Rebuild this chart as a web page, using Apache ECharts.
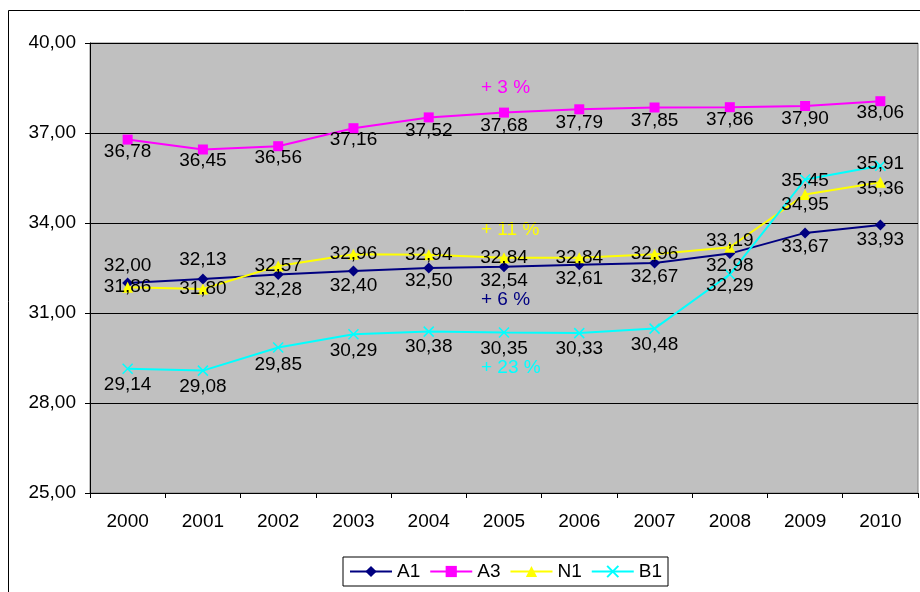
<!DOCTYPE html>
<html>
<head>
<meta charset="utf-8">
<script src="https://cdn.jsdelivr.net/npm/echarts@6/dist/echarts.min.js"></script>
<style>
html,body{margin:0;padding:0;background:#fff;}
#chart{width:920px;height:592px;}
</style>
</head>
<body>
<div id="chart"></div>
<script>
// categories and values
var years = ['2000','2001','2002','2003','2004','2005','2006','2007','2008','2009','2010'];
var a1 = [32.00, 32.13, 32.28, 32.40, 32.50, 32.54, 32.61, 32.67, 32.98, 33.67, 33.93];
var a3 = [36.78, 36.45, 36.56, 37.16, 37.52, 37.68, 37.79, 37.85, 37.86, 37.90, 38.06];
var n1 = [31.86, 31.80, 32.57, 32.96, 32.94, 32.84, 32.84, 32.96, 33.19, 34.95, 35.36];
var b1 = [29.14, 29.08, 29.85, 30.29, 30.38, 30.35, 30.33, 30.48, 32.29, 35.45, 35.91];
var growth = ['+ 3 %', '+ 11 %', '+ 6 %', '+ 23 %'];

// vertical shift of each value label (px), like in the excel picture
var shiftA1 = [-17, -19, 15, 15, 13, 14, 14, 14, 12, 14, 15];
var shiftA3 = [12, 11, 12, 12, 13, 13, 13, 13, 13, 13, 12];
var shiftN1 = [0, 0, 0, 0, 0, 0, 0, 0, -7, 10, 7];
var shiftB1 = [16, 16, 17, 16, 15, 16, 16, 16, 11, 1, -2];

function fmt(v) {
	return Number(v).toFixed(2).replace('.', ',');
}

var font = 'Liberation Sans, Arial, sans-serif';

function makeSeries(name, values, shifts, color, symbol, size) {
	var data = [];
	for (var i = 0; i < values.length; i++) {
		data.push({
			value: values[i],
			label: { offset: [0, shifts[i]] }
		});
	}
	return {
		name: name,
		type: 'line',
		data: data,
		symbol: symbol,
		symbolSize: size,
		showAllSymbol: true,
		lineStyle: { color: color, width: 2 },
		itemStyle: { color: color, borderColor: color, borderWidth: symbol.indexOf('path') == 0 ? 1.5 : 0 },
		label: {
			show: true,
			position: 'inside',
			color: '#000',
			fontSize: 19,
			fontFamily: font,
			formatter: function (p) { return fmt(p.value); }
		},
		emphasis: { disabled: true },
		animation: false
	};
}

var myChart = echarts.init(document.getElementById('chart'));

var option = {
	backgroundColor: '#fff',
	animation: false,
	grid: {
		left: 90, right: 2, top: 43, bottom: 99,
		show: true,
		backgroundColor: '#C0C0C0',
		borderColor: '#808080',
		borderWidth: 1
	},
	legend: {
		left: 343, top: 557,
		padding: [5, 6],
		itemGap: 9,
		itemWidth: 42,
		itemHeight: 14,
		borderColor: '#000',
		borderWidth: 1,
		backgroundColor: '#fff',
		textStyle: { fontSize: 19, fontFamily: font, color: '#000' },
		data: ['A1', 'A3', 'N1', 'B1']
	},
	xAxis: {
		type: 'category',
		data: years,
		boundaryGap: true,
		axisLine: { lineStyle: { color: '#000', width: 1 } },
		axisTick: { show: true, length: 5, lineStyle: { color: '#000' } },
		axisLabel: { color: '#000', fontSize: 19, fontFamily: font, margin: 19 },
		splitLine: { show: false }
	},
	yAxis: {
		type: 'value',
		min: 25, max: 40, interval: 3,
		axisLine: { show: true, lineStyle: { color: '#000', width: 1 } },
		axisTick: { show: true, length: 5, lineStyle: { color: '#000' } },
		axisLabel: { color: '#000', fontSize: 19, fontFamily: font, margin: 14, formatter: fmt },
		splitLine: { show: true, lineStyle: { color: '#000', width: 1 } }
	},
	graphic: [
		{ type: 'rect', silent: true, z: -1, shape: { x: 8.5, y: 10.5, width: 1000, height: 1000 }, style: { fill: 'none', stroke: '#000', lineWidth: 1 } },
		{ type: 'text', left: 481, top: 78, style: { text: growth[0], fill: '#FF00FF', fontSize: 19, fontFamily: font } },
		{ type: 'text', left: 481, top: 220, style: { text: growth[1], fill: '#FFFF00', fontSize: 19, fontFamily: font } },
		{ type: 'text', left: 481, top: 290, style: { text: growth[2], fill: '#000080', fontSize: 19, fontFamily: font } },
		{ type: 'text', left: 481, top: 358, style: { text: growth[3], fill: '#00FFFF', fontSize: 19, fontFamily: font } }
	],
	series: [
		makeSeries('A1', a1, shiftA1, '#000080', 'diamond', 11),
		makeSeries('A3', a3, shiftA3, '#FF00FF', 'rect', 10),
		makeSeries('N1', n1, shiftN1, '#FFFF00', 'triangle', 11),
		makeSeries('B1', b1, shiftB1, '#00FFFF', 'path://M0,0L10,10M10,0L0,10', 10)
	]
};

myChart.setOption(option);
</script>
</body>
</html>
